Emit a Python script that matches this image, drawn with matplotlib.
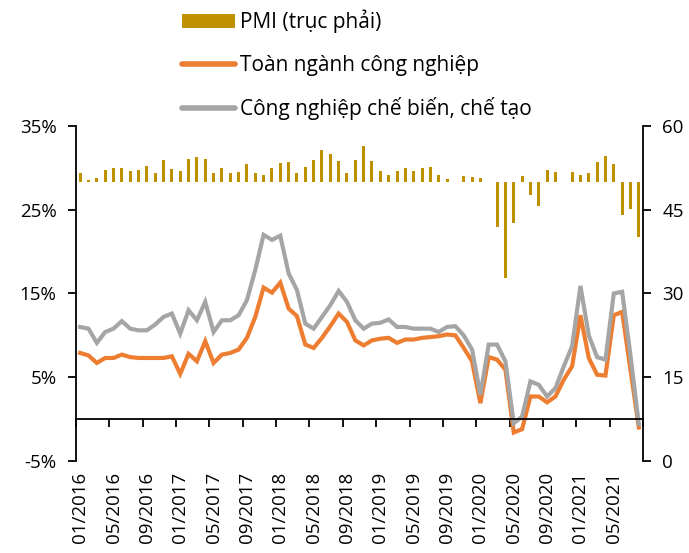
import matplotlib
matplotlib.use("Agg")
from matplotlib import pyplot as plt
from matplotlib.lines import Line2D
from matplotlib.patches import Patch
import numpy as np
import pandas as pd

plt.rcParams['font.family'] = ['Open Sans', 'DejaVu Sans']

# monthly data, 01/2016 - 08/2021
months = pd.date_range("2016-01-01", periods=68, freq="MS").strftime("%m/%Y").tolist()

pmi = [51.5, 50.3, 50.7, 52.2, 52.5, 52.5, 51.9, 52.1, 52.8, 51.6, 53.9, 52.3,
       51.9, 54.1, 54.5, 54.0, 51.6, 52.4, 51.6, 51.7, 53.2, 51.6, 51.3, 52.4,
       53.3, 53.5, 51.6, 52.7, 53.9, 55.7, 54.9, 53.7, 51.5, 53.9, 56.5, 53.8,
       51.9, 51.2, 51.9, 52.5, 52.0, 52.5, 52.6, 51.3, 50.5, 50.0, 51.0, 50.8,
       50.6, 49.9, 41.9, 32.7, 42.7, 51.1, 47.6, 45.7, 52.2, 51.8, 49.9, 51.7,
       51.3, 51.6, 53.6, 54.7, 53.1, 44.1, 45.1, 40.2]

toan_nganh = [7.9, 7.6, 6.7, 7.3, 7.3, 7.7, 7.4, 7.3, 7.3, 7.3, 7.3, 7.5,
              5.4, 7.8, 6.9, 9.3, 6.7, 7.7, 7.9, 8.3, 9.7, 12.2, 15.7, 15.1,
              16.3, 13.2, 12.3, 8.9, 8.5, 9.7, 11.1, 12.6, 11.6, 9.4, 8.8, 9.4,
              9.6, 9.7, 9.1, 9.5, 9.5, 9.7, 9.8, 9.9, 10.1, 10.0, 8.5, 6.9,
              1.9, 7.4, 7.1, 5.9, -1.6, -1.2, 2.7, 2.7, 2.0, 2.7, 4.7, 6.3,
              12.4, 7.3, 5.3, 5.2, 12.4, 12.8, 5.9, -1.0]

che_bien = [11.0, 10.8, 9.1, 10.4, 10.8, 11.7, 10.8, 10.6, 10.6, 11.3, 12.2, 12.6,
            10.2, 13.0, 11.8, 14.0, 10.4, 11.8, 11.8, 12.4, 14.2, 17.8, 22.0, 21.4,
            21.9, 17.4, 15.4, 11.4, 10.8, 12.2, 13.6, 15.3, 14.0, 11.8, 10.8, 11.4,
            11.5, 11.9, 11.0, 11.0, 10.8, 10.8, 10.8, 10.4, 11.0, 11.1, 10.0, 8.3,
            2.9, 8.9, 8.9, 6.9, -0.5, 0.3, 4.5, 4.1, 2.7, 3.7, 6.3, 8.7,
            15.9, 10.0, 7.4, 7.1, 15.0, 15.2, 7.6, -0.6]

orange = "#ED7D31"
grey = "#A5A5A5"
gold = "#BF9000"

x = np.arange(len(months))

fig = plt.figure(figsize=(6.89, 5.53), dpi=100)
ax = fig.add_axes([0.1103, 0.1664, 0.8229, 0.6058])
ax2 = ax.twinx()

# PMI bars around the 50 threshold on the right axis
ax2.bar(x, np.array(pmi) - 50, bottom=50, width=0.36, color=gold)
ax2.set_ylim(0, 60)
ax2.set_yticks([0, 15, 30, 45, 60])

ax.plot(x, toan_nganh, color=orange, lw=3.0, solid_joinstyle="miter")
ax.plot(x, che_bien, color=grey, lw=3.0, solid_joinstyle="miter")
ax.set_zorder(ax2.get_zorder() + 1)
ax.patch.set_visible(False)

ax.set_ylim(-5, 35)
ax.set_yticks([-5, 5, 15, 25, 35])
ax.set_yticklabels([f"{v}%" for v in [-5, 5, 15, 25, 35]])
ax.set_xlim(-0.5, len(months) - 0.5)

# x axis line sits at 0%, labels stay at the bottom
ax.spines['bottom'].set_position(('data', 0))
ax.set_xticks(np.arange(-0.5, len(months), 4))
ax.tick_params(axis='x', direction='out', length=6, width=1.3, labelbottom=False)
sec = ax.secondary_xaxis('bottom')
sec.set_xticks(x[::4])
sec.set_xticklabels(months[::4], rotation=90)
sec.tick_params(length=0, pad=8, labelsize=13.5)
sec.spines['bottom'].set_visible(False)

for a in (ax, ax2):
    a.spines['top'].set_visible(False)
    for s in a.spines.values():
        s.set_linewidth(1.3)
ax2.spines['bottom'].set_visible(False)
ax2.spines['left'].set_visible(False)
ax.spines['right'].set_visible(False)
ax.tick_params(axis='y', direction='out', length=6, width=1.3, labelsize=13.5, pad=8)
ax2.tick_params(axis='y', direction='out', length=6, width=1.3, labelsize=13.5, pad=8)

handles = [Patch(facecolor=gold, edgecolor='none'),
           Line2D([], [], color=orange, lw=4, solid_capstyle='round'),
           Line2D([], [], color=grey, lw=4, solid_capstyle='round')]
labels = ["PMI (trục phải)", "Toàn ngành công nghiệp", "Công nghiệp chế biến, chế tạo"]
fig.legend(handles, labels, loc='upper left', bbox_to_anchor=(0.237, 1.016),
           frameon=False, fontsize=15, handlelength=2.55, handleheight=0.6,
           handletextpad=0.25, labelspacing=1.02)

fig.savefig("out.png", dpi=100)
